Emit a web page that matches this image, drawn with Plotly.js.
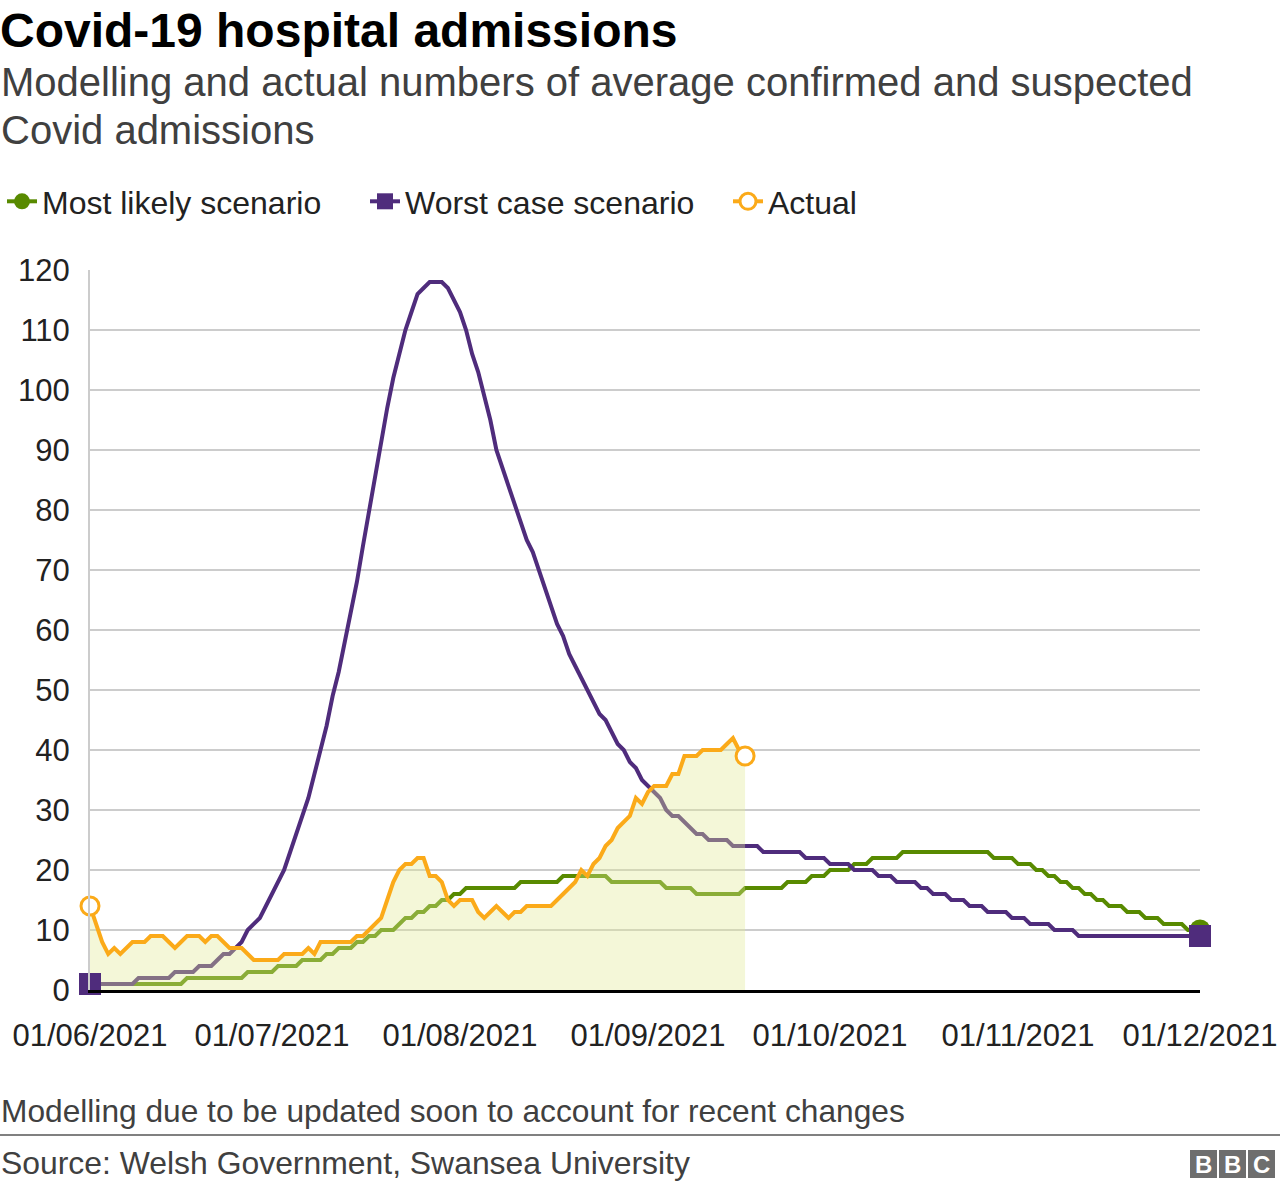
<!DOCTYPE html>
<html>
<head>
<meta charset="utf-8">
<script src="https://cdn.plot.ly/plotly-3.0.1.min.js"></script>
<style>
  html, body { margin: 0; padding: 0; background: #fff; }
  #chart { width: 1280px; height: 1190px; }
</style>
</head>
<body>
<div id="chart"></div>
<script>
// ---------- DATA (daily, starting 01/06/2021) ----------
const startDate = '2021-06-01';

const mostLikely = [
  1,1,1,1,1,1,1,1,1,1,1,1,1,1,1,1,
  2,2,2,2,2,2,2,2,2,2,
  3,3,3,3,3,
  4,4,4,4,
  5,5,5,5,
  6,6,
  7,7,7,
  8,8,
  9,9,
  10,10,10,
  11,
  12,12,
  13,13,
  14,14,
  15,15,
  16,16,
  17,17,17,17,17,17,17,17,17,
  18,18,18,18,18,18,18,
  19,19,19,19,19,19,19,19,
  18,18,18,18,18,18,18,18,18,
  17,17,17,17,17,
  16,16,16,16,16,16,16,16,
  17,17,17,17,17,17,17,
  18,18,18,18,
  19,19,19,
  20,20,20,20,
  21,21,21,
  22,22,22,22,22,
  23,23,23,23,23,23,23,23,23,23,23,23,23,23,23,
  22,22,22,22,
  21,21,21,
  20,20,19,19,18,18,17,17,16,16,15,15,
  14,14,14,13,13,13,12,12,12,11,11,11,11,10,10,10
];

const worstCase = [
  1,1,1,1,1,1,1,1,
  2,2,2,2,2,2,
  3,3,3,3,
  4,4,4,
  5,
  6,6,
  7,
  8,
  10,11,12,14,16,18,20,23,26,29,32,36,40,44,49,53,58,63,68,74,
  80,86,91,97,102,106,110,113,116,117,118,118,118,117,115,113,110,106,103,99,
  95,90,87,84,81,78,75,73,70,67,64,61,59,56,54,52,50,48,46,45,
  43,41,40,38,37,35,34,33,32,30,29,29,28,27,26,26,
  25,25,25,25,
  24,24,24,24,24,
  23,23,23,23,23,23,23,
  22,22,22,22,
  21,21,21,21,
  20,20,20,20,
  19,19,19,
  18,18,18,18,
  17,17,
  16,16,16,
  15,15,15,
  14,14,14,
  13,13,13,13,
  12,12,12,
  11,11,11,11,
  10,10,10,10,
  9,9,9,9,9,9,9,9,9,9,9,9,9,9,9,9,9,9,9,9,9
];

const actual = [
  14,11,8,6,7,6,7,8,8,8,
  9,9,9,8,7,8,9,9,9,8,
  9,9,8,7,7,7,6,5,5,5,
  5,5,6,6,6,6,7,6,8,8,
  8,8,8,8,9,9,10,11,12,15,
  18,20,21,21,22,22,19,19,18,15,
  14,15,15,15,13,12,13,14,13,12,
  13,13,14,14,14,14,14,15,16,17,
  18,20,19,21,22,24,25,27,28,29,
  32,31,33,34,34,34,36,36,39,39,
  39,40,40,40,40,41,42,40,39
];

const tickDates  = ['2021-06-01','2021-07-01','2021-08-01','2021-09-01','2021-10-01','2021-11-01','2021-12-01'];
const tickLabels = ['01/06/2021','01/07/2021','01/08/2021','01/09/2021','01/10/2021','01/11/2021','01/12/2021'];
const yTicks = [0,10,20,30,40,50,60,70,80,90,100,110,120];

const seriesNames = ['Most likely scenario', 'Worst case scenario', 'Actual'];
const subtitleLines = ['Modelling and actual numbers of average confirmed and suspected', 'Covid admissions'];

// ---------- helpers ----------
function dayStr(i) {
  const p = startDate.split('-').map(Number);
  const d = new Date(Date.UTC(p[0], p[1] - 1, p[2] + i));
  return d.toISOString().slice(0, 10);
}
const datesFor = arr => arr.map((_, i) => dayStr(i));
const endsX = arr => [dayStr(0), dayStr(0), dayStr(arr.length - 1)];
const endsY = arr => [arr[0], null, arr[arr.length - 1]];

const GREEN = '#588a00';
const PURPLE = '#4f2c7c';
const ORANGE = '#fbaa19';
const FONT = 'Liberation Sans, Arial, Helvetica, sans-serif';
const LW = 4;

// plot area in pixels (for layout positions of texts)
const PL = 90, PR = 1200, PT = 270, PB = 990;
const px = x => (x - PL) / (PR - PL);
const py = y => (PB - y) / (PB - PT);

const traces = [
  { x: datesFor(mostLikely), y: mostLikely, mode: 'lines', line: { color: GREEN, width: LW },
    showlegend: false, hoverinfo: 'skip', cliponaxis: false },
  { x: datesFor(worstCase), y: worstCase, mode: 'lines', line: { color: PURPLE, width: LW },
    showlegend: false, hoverinfo: 'skip', cliponaxis: false },
  // shaded area under the actual figures
  { x: datesFor(actual), y: actual, mode: 'none', fill: 'tozeroy',
    fillcolor: 'rgba(225,233,148,0.37)', showlegend: false, hoverinfo: 'skip' },
  { x: datesFor(actual), y: actual, mode: 'lines', line: { color: ORANGE, width: LW },
    showlegend: false, hoverinfo: 'skip', cliponaxis: false },
  // end markers (also used for legend entries)
  { x: endsX(mostLikely), y: endsY(mostLikely), name: seriesNames[0], mode: 'lines+markers',
    line: { color: GREEN, width: LW }, marker: { color: GREEN, size: 21, symbol: 'circle' },
    cliponaxis: false, hoverinfo: 'skip' },
  { x: endsX(worstCase), y: endsY(worstCase), name: seriesNames[1], mode: 'lines+markers',
    line: { color: PURPLE, width: LW }, marker: { color: PURPLE, size: 22, symbol: 'square' },
    cliponaxis: false, hoverinfo: 'skip' },
  { x: endsX(actual), y: endsY(actual), name: seriesNames[2], mode: 'lines+markers',
    line: { color: ORANGE, width: LW },
    marker: { color: '#ffffff', size: 18, symbol: 'circle', line: { color: ORANGE, width: 3 } },
    cliponaxis: false, hoverinfo: 'skip' }
];

const bbcBoxes = [[1190, 'B'], [1219, 'B'], [1248, 'C']];

const layout = {
  width: 1280, height: 1190,
  margin: { l: PL, r: 1280 - PR, t: PT, b: 1190 - PB, pad: 0 },
  paper_bgcolor: '#ffffff', plot_bgcolor: '#ffffff',
  font: { family: FONT, color: '#222222', size: 31 },
  title: {
    text: '<b>Covid-19 hospital admissions</b>',
    font: { family: FONT, size: 48, color: '#000000' },
    x: 0, xref: 'container', xanchor: 'left',
    y: 1 - 30 / 1190, yref: 'container', yanchor: 'middle',
    pad: { l: 0, t: 0, b: 0, r: 0 }
  },
  showlegend: true,
  legend: {
    orientation: 'h', xref: 'container', yref: 'container',
    x: 2 / 1280, xanchor: 'left', y: 1 - 174 / 1190, yanchor: 'top',
    font: { family: FONT, size: 32, color: '#222222' },
    entrywidth: 318, entrywidthmode: 'pixels',
    bgcolor: 'rgba(0,0,0,0)', itemclick: false, itemdoubleclick: false
  },
  xaxis: {
    type: 'date', range: [tickDates[0], tickDates[tickDates.length - 1]],
    tickmode: 'array', tickvals: tickDates, ticktext: tickLabels,
    showgrid: false, zeroline: false, ticks: '',
    showline: true, linecolor: '#000000', linewidth: 3,
    tickfont: { family: FONT, size: 31, color: '#222222' },
    ticklabelstandoff: 16, fixedrange: true
  },
  yaxis: {
    range: [0, 120], tickmode: 'array', tickvals: yTicks,
    showgrid: true, gridcolor: '#cccccc', gridwidth: 2,
    zeroline: false, ticks: '',
    showline: true, linecolor: '#cccccc', linewidth: 2,
    tickfont: { family: FONT, size: 31, color: '#222222' },
    ticklabelstandoff: 12, fixedrange: true
  },
  annotations: [
    { text: subtitleLines[0],
      xref: 'paper', yref: 'paper', x: px(-1), y: py(82), xanchor: 'left', yanchor: 'middle',
      align: 'left', showarrow: false, font: { family: FONT, size: 40, color: '#404040' } },
    { text: subtitleLines[1],
      xref: 'paper', yref: 'paper', x: px(-1), y: py(130), xanchor: 'left', yanchor: 'middle',
      align: 'left', showarrow: false, font: { family: FONT, size: 40, color: '#404040' } },
    { text: 'Modelling due to be updated soon to account for recent changes',
      xref: 'paper', yref: 'paper', x: px(-1), y: py(1111), xanchor: 'left', yanchor: 'middle',
      align: 'left', showarrow: false, font: { family: FONT, size: 31.7, color: '#404040' } },
    { text: 'Source: Welsh Government, Swansea University',
      xref: 'paper', yref: 'paper', x: px(-1), y: py(1163), xanchor: 'left', yanchor: 'middle',
      align: 'left', showarrow: false, font: { family: FONT, size: 31.9, color: '#404040' } }
  ].concat(bbcBoxes.map(b => ({
      text: '<b>' + b[1] + '</b>', xref: 'paper', yref: 'paper',
      x: px(b[0] + 13), y: py(1164), xanchor: 'center', yanchor: 'middle',
      showarrow: false, font: { family: FONT, size: 24, color: '#ffffff' } }))),
  shapes: [
    { type: 'line', xref: 'paper', yref: 'paper', x0: px(0), x1: px(1280), y0: py(1135), y1: py(1135),
      line: { color: '#808080', width: 2 } }
  ].concat(bbcBoxes.map(b => ({
      type: 'rect', xref: 'paper', yref: 'paper', x0: px(b[0]), x1: px(b[0] + 27),
      y0: py(1178), y1: py(1150), fillcolor: '#6e6e6e', line: { width: 0 } })))
};

Plotly.newPlot('chart', traces, layout, { displayModeBar: false, staticPlot: true });
</script>
</body>
</html>
